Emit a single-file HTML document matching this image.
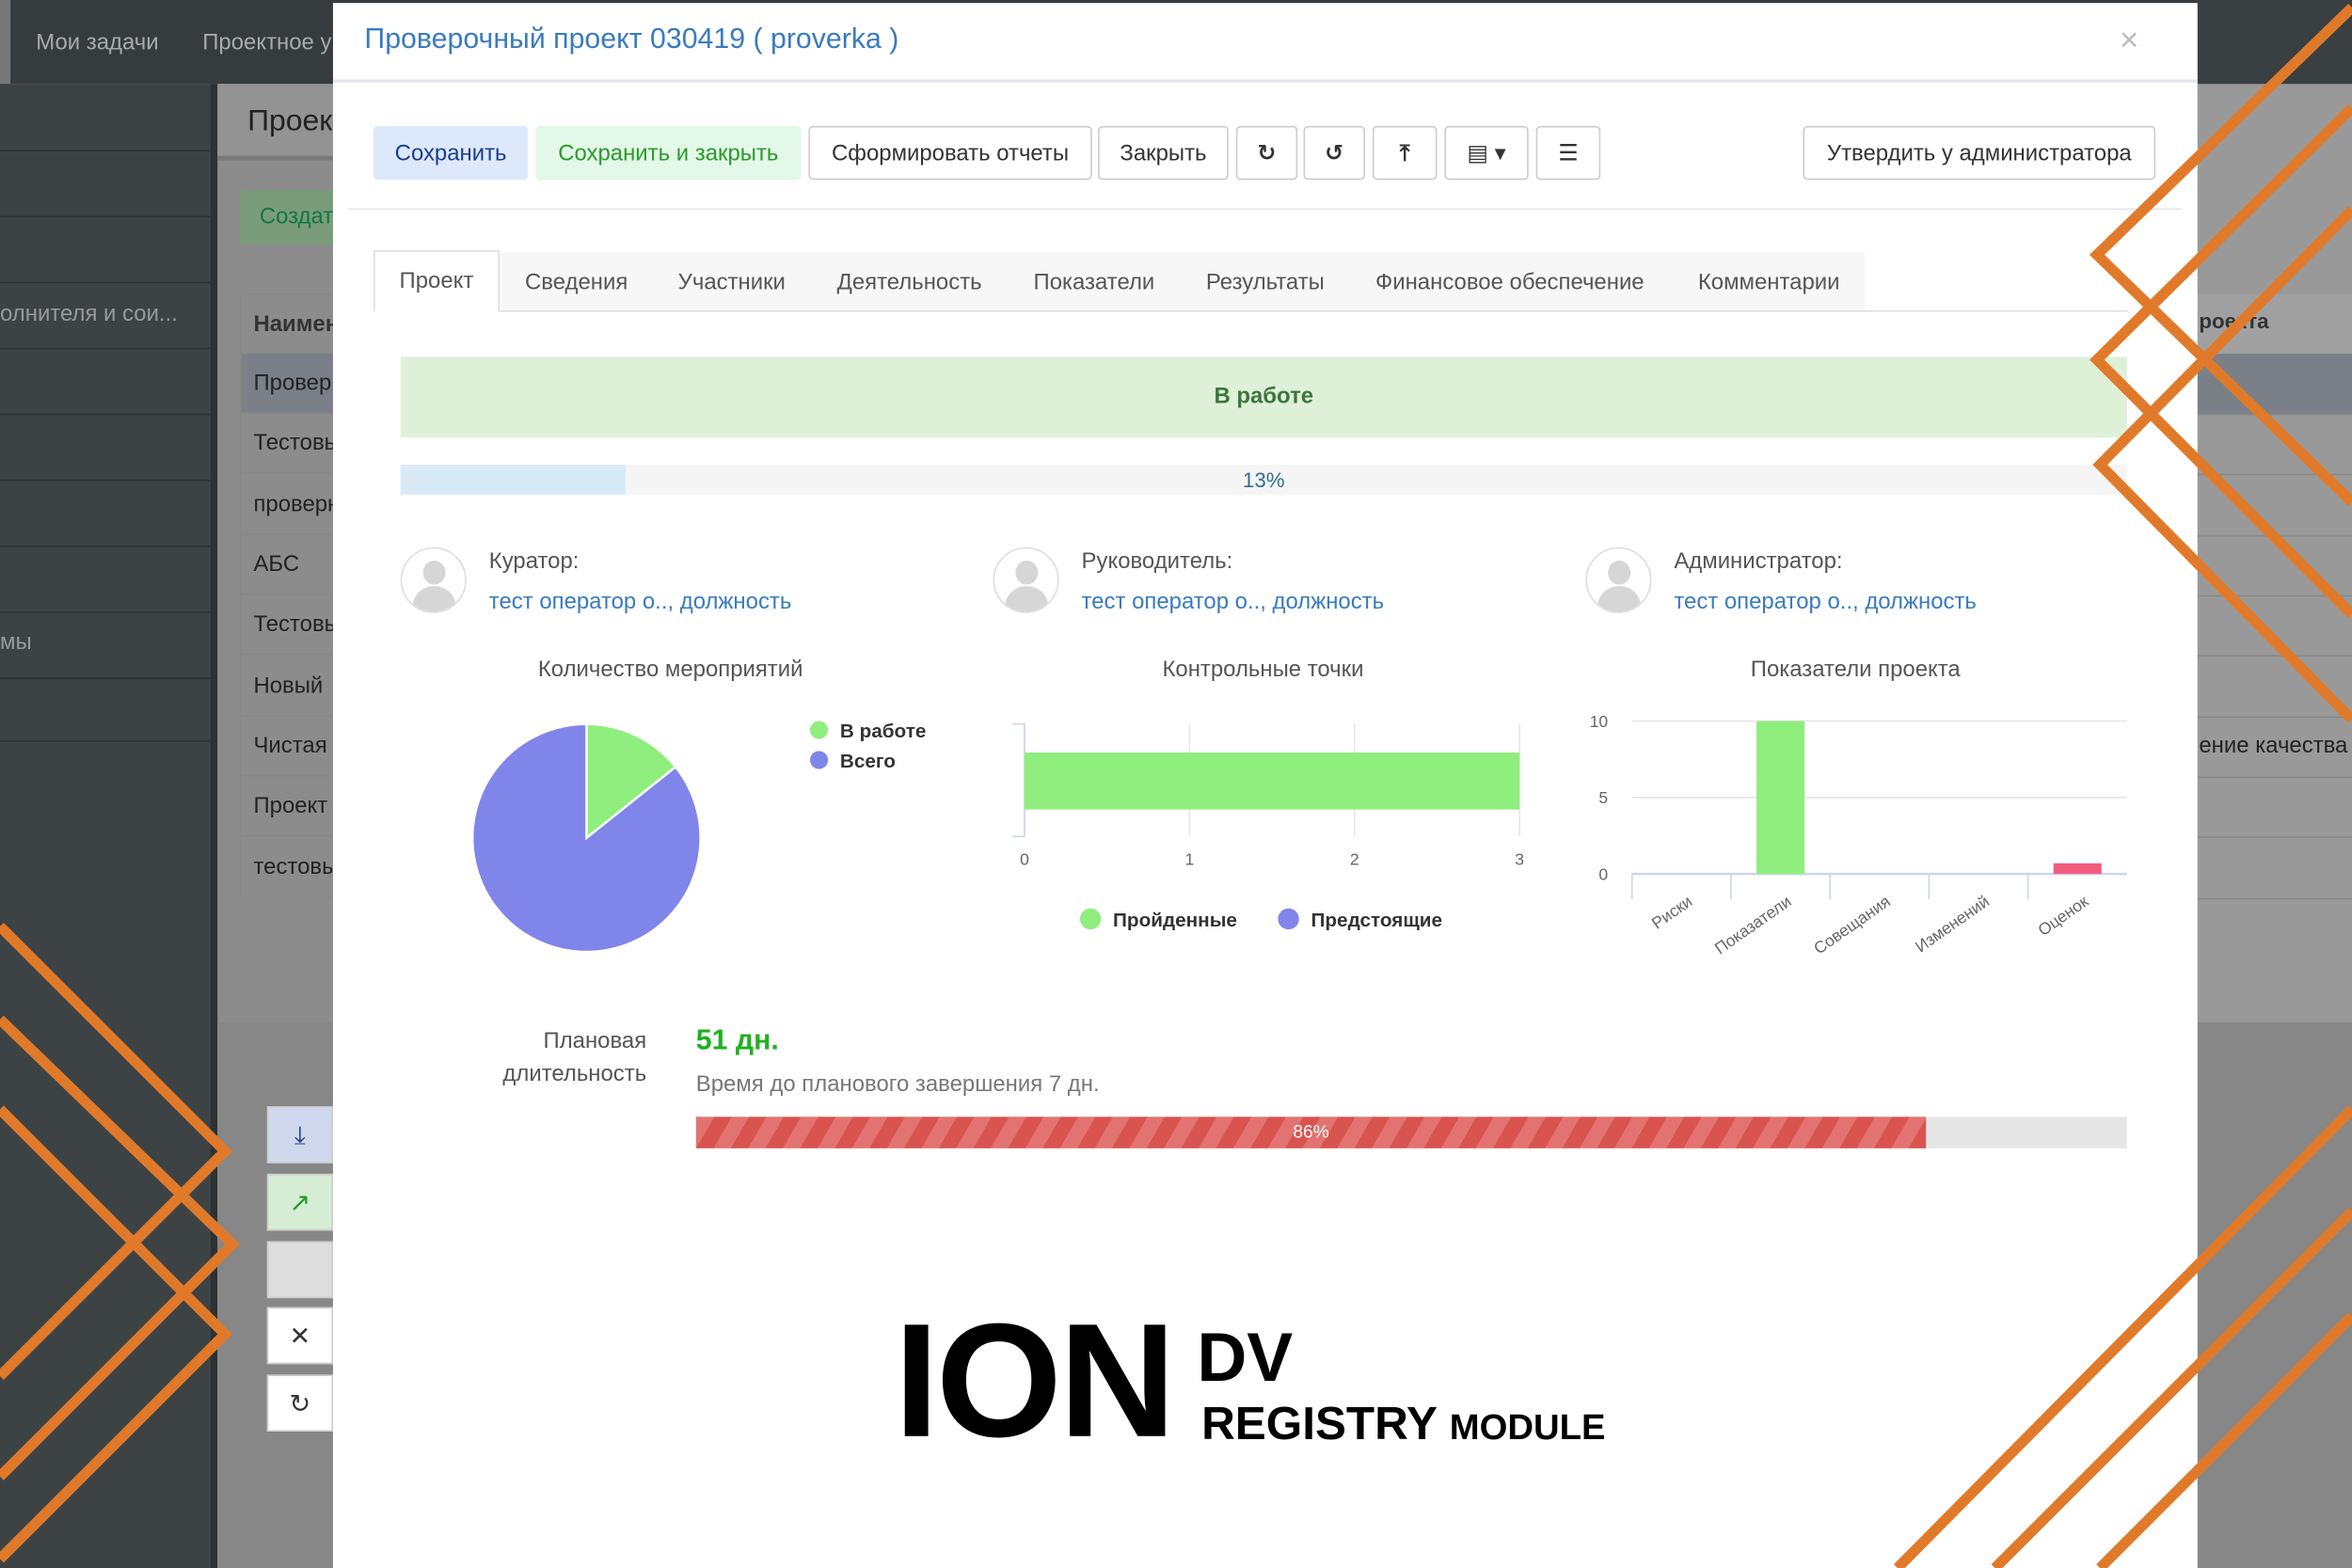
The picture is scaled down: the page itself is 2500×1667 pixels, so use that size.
<!DOCTYPE html>
<html><head><meta charset="utf-8">
<style>
html,body{margin:0;padding:0;width:2500px;height:1667px;overflow:hidden;background:#8c8c8c;}
#stage{position:absolute;left:0;top:0;width:1568px;height:1046px;transform:scale(1.59439,1.5937);transform-origin:0 0;font-family:"Liberation Sans","DejaVu Sans",sans-serif;overflow:hidden;}
.abs{position:absolute;}
.btn{position:absolute;top:84px;height:36px;border:1px solid #ccc;border-radius:3px;background:#fff;font-size:15px;color:#333;line-height:36px;text-align:center;box-sizing:border-box;}
.tab{position:absolute;top:180px;font-size:15px;color:#555;}
.navrow{position:absolute;left:0;width:140px;border-bottom:1px solid #2e3335;}
.trow{position:absolute;left:160px;width:62px;height:40px;border-bottom:1px solid #888;font-size:15px;color:#222;line-height:40px;padding-left:9px;box-sizing:border-box;overflow:hidden;white-space:nowrap;}
.rrow{position:absolute;left:1465px;width:103px;height:40px;border-bottom:1px solid #888;}
.person{position:absolute;top:365px;}
.ava{position:absolute;left:0;top:0;width:42px;height:42px;border-radius:50%;border:1px solid #ddd;background:#fff;overflow:hidden;}
.ava::before{content:"";position:absolute;left:14px;top:8px;width:15px;height:16px;border-radius:50%;background:#d6d6d6;}
.ava::after{content:"";position:absolute;left:7px;top:25px;width:29px;height:20px;border-radius:14px 14px 0 0;background:#d6d6d6;}
.lbl{position:absolute;left:59px;top:1px;font-size:15px;color:#555;white-space:nowrap;}
.lnk{position:absolute;left:59px;top:28px;font-size:15px;color:#3a7bbf;white-space:nowrap;}
.side{position:absolute;left:178px;width:44px;height:38px;box-sizing:border-box;border:1px solid #ccc;text-align:center;line-height:38px;font-size:17px;}
</style></head>
<body>
<div id="stage">
  <div class="abs" style="left:0;top:0;width:1568px;height:56px;background:#363b3d;"></div>
  <div class="abs" style="left:0;top:0;width:7px;height:56px;background:#777;"></div>
  <div class="abs" style="left:24px;top:20px;font-size:15px;color:#aaa;">Мои задачи</div>
  <div class="abs" style="left:135px;top:20px;font-size:15px;color:#aaa;white-space:nowrap;">Проектное у</div>
  <div class="abs" style="left:0;top:56px;width:140px;height:990px;background:#3d4345;"></div>
  <div class="navrow" style="top:56px;height:44px;"></div>
  <div class="navrow" style="top:100px;height:44px;"></div>
  <div class="navrow" style="top:144px;height:44px;"></div>
  <div class="navrow" style="top:188px;height:44px;"></div>
  <div class="abs" style="left:0;top:201px;font-size:15px;color:#999;white-space:nowrap;">олнителя и сои...</div>
  <div class="navrow" style="top:232px;height:44px;"></div>
  <div class="navrow" style="top:276px;height:44px;"></div>
  <div class="navrow" style="top:320px;height:44px;"></div>
  <div class="navrow" style="top:364px;height:44px;"></div>
  <div class="navrow" style="top:408px;height:44px;"></div>
  <div class="abs" style="left:0;top:420px;font-size:15px;color:#999;">мы</div>
  <div class="navrow" style="top:452px;height:42px;"></div>
  <div class="abs" style="left:140px;top:56px;width:5px;height:990px;background:#2c3133;"></div>
  <div class="abs" style="left:145px;top:56px;width:77px;height:990px;background:#8c8c8c;"></div>
  <div class="abs" style="left:145px;top:56px;width:77px;height:48px;background:#939393;border-bottom:3px solid #7a7a7a;"></div>
  <div class="abs" style="left:165px;top:70px;font-size:20px;color:#222;">Проек</div>
  <div class="abs" style="left:160px;top:127px;width:62px;height:36px;background:#7a9c7a;border-radius:3px 0 0 3px;font-size:15px;color:#174;line-height:36px;padding-left:13px;box-sizing:border-box;">Создат</div>
  <div class="trow" style="top:196px;font-weight:bold;color:#333;border-top:1px solid #888;">Наимен</div>
  <div class="trow" style="top:236px;background:#7b7f88;">Провер</div>
  <div class="trow" style="top:276px;">Тестовы</div>
  <div class="trow" style="top:317px;">проверн</div>
  <div class="trow" style="top:357px;">АБС</div>
  <div class="trow" style="top:397px;">Тестовы</div>
  <div class="trow" style="top:438px;">Новый</div>
  <div class="trow" style="top:478px;">Чистая</div>
  <div class="trow" style="top:518px;">Проект</div>
  <div class="trow" style="top:559px;">тестовы</div>
  <div class="abs" style="left:160px;top:196px;width:1px;height:403px;background:#888;"></div>
  <div class="abs" style="left:145px;top:682px;width:77px;height:364px;background:#878787;"></div>
  <div class="side" style="top:738px;background:#cfd8ec;color:#1e3a8a;">⤓</div>
  <div class="side" style="top:783px;background:#d5ecd5;color:#2a9a2a;">↗</div>
  <div class="side" style="top:828px;background:#ddd;"></div>
  <div class="side" style="top:872px;background:#fff;color:#333;font-weight:bold;">✕</div>
  <div class="side" style="top:917px;background:#fff;color:#333;">↻</div>
  <div class="abs" style="left:1465px;top:0;width:103px;height:1046px;background:#999;"></div>
  <div class="abs" style="left:1465px;top:0;width:103px;height:56px;background:#3a3f41;"></div>
  <div class="rrow" style="top:196px;background:#a0a0a0;"></div>
  <div class="abs" style="left:1466px;top:206px;font-size:14px;font-weight:bold;color:#333;">роекта</div>
  <div class="rrow" style="top:236px;background:#7b7f88;"></div>
  <div class="rrow" style="top:276px;"></div><div class="rrow" style="top:317px;"></div><div class="rrow" style="top:357px;"></div><div class="rrow" style="top:397px;"></div><div class="rrow" style="top:438px;"></div>
  <div class="rrow" style="top:478px;"></div>
  <div class="abs" style="left:1466px;top:489px;font-size:15px;color:#222;white-space:nowrap;">ение качества</div>
  <div class="rrow" style="top:518px;"></div><div class="rrow" style="top:559px;"></div>
  <div class="abs" style="left:1465px;top:682px;width:103px;height:364px;background:#878787;"></div>

  <div class="abs" style="left:222px;top:2px;width:1243px;height:1044px;background:#fff;"></div>
  <div class="abs" style="left:243px;top:16px;font-size:19px;color:#3a7bbf;">Проверочный проект 030419 ( proverka )</div>
  <div class="abs" style="left:1413px;top:14px;font-size:22px;color:#bbb;">×</div>
  <div class="abs" style="left:222px;top:53px;width:1243px;height:2px;background:#e3e6ea;"></div>

  <div class="btn" style="left:249px;width:103px;background:#dde9fb;border-color:#dde9fb;color:#1a3d8f;">Сохранить</div>
  <div class="btn" style="left:357px;width:177px;background:#e3f8e8;border-color:#e3f8e8;color:#2a9a2a;">Сохранить и закрыть</div>
  <div class="btn" style="left:539px;width:189px;">Сформировать отчеты</div>
  <div class="btn" style="left:732px;width:87px;">Закрыть</div>
  <div class="btn" style="left:824px;width:41px;font-weight:bold;">↻</div>
  <div class="btn" style="left:869px;width:41px;font-weight:bold;">↺</div>
  <div class="btn" style="left:915px;width:43px;font-weight:bold;">⤒</div>
  <div class="btn" style="left:963px;width:56px;">▤ ▾</div>
  <div class="btn" style="left:1024px;width:43px;">☰</div>
  <div class="btn" style="left:1202px;width:235px;">Утвердить у администратора</div>
  <div class="abs" style="left:232px;top:139px;width:1222px;height:1px;background:#e5e5e5;"></div>

  <div class="abs" style="left:249px;top:168px;width:994px;height:39px;background:#f7f7f7;"></div>
  <div class="abs" style="left:249px;top:207px;width:1170px;height:1px;background:#ddd;"></div>
  <div class="abs" style="left:249px;top:167px;width:84px;height:41px;background:#fff;border:1px solid #ddd;border-bottom:none;box-sizing:border-box;font-size:15px;color:#555;text-align:center;line-height:40px;">Проект</div>
  <div class="tab" style="left:350px;">Сведения</div>
  <div class="tab" style="left:452px;">Участники</div>
  <div class="tab" style="left:558px;">Деятельность</div>
  <div class="tab" style="left:689px;">Показатели</div>
  <div class="tab" style="left:804px;">Результаты</div>
  <div class="tab" style="left:917px;">Финансовое обеспечение</div>
  <div class="tab" style="left:1132px;">Комментарии</div>

  <div class="abs" style="left:267px;top:238px;width:1151px;height:54px;background:#dff0d8;text-align:center;line-height:54px;font-size:15px;font-weight:bold;color:#3c763d;">В работе</div>
  <div class="abs" style="left:267px;top:310px;width:1151px;height:20px;background:#f5f5f5;"></div>
  <div class="abs" style="left:267px;top:310px;width:150px;height:20px;background:#d9eaf7;"></div>
  <div class="abs" style="left:267px;top:312px;width:1151px;text-align:center;font-size:14px;color:#31708f;">13%</div>

  <div class="person" style="left:267px;"><div class="ava"></div><div class="lbl">Куратор:</div><div class="lnk">тест оператор о.., должность</div></div>
  <div class="person" style="left:662px;"><div class="ava"></div><div class="lbl">Руководитель:</div><div class="lnk">тест оператор о.., должность</div></div>
  <div class="person" style="left:1057px;"><div class="ava"></div><div class="lbl">Администратор:</div><div class="lnk">тест оператор о.., должность</div></div>

  <svg class="abs" style="left:0;top:0;" width="1568" height="1046" id="charts"></svg>

  <div class="abs" style="left:300px;top:684px;width:131px;text-align:right;font-size:15px;color:#555;line-height:22px;">Плановая<br>длительность</div>
  <div class="abs" style="left:464px;top:684px;font-size:19px;font-weight:bold;color:#22b022;">51 дн.</div>
  <div class="abs" style="left:464px;top:715px;font-size:15px;color:#777;">Время до планового завершения 7 дн.</div>
  <div class="abs" style="left:464px;top:745px;width:954px;height:21px;background:#e6e6e6;"></div>
  <div class="abs" style="left:464px;top:745px;width:820px;height:21px;background:repeating-linear-gradient(-60deg,#d9534f 0 10px,#e27370 10px 20px);"></div>
  <div class="abs" style="left:464px;top:748px;width:820px;text-align:center;font-size:12px;color:#fff;">86%</div>

  <div class="abs" style="left:596px;top:866px;font-size:108px;font-weight:bold;color:#000;letter-spacing:-2px;line-height:110px;">ION</div>
  <div class="abs" style="left:798px;top:880px;font-size:46px;font-weight:bold;color:#000;line-height:50px;">DV</div>
  <div class="abs" style="left:801px;top:932px;font-size:31px;font-weight:bold;color:#000;white-space:nowrap;">REGISTRY <span style="font-size:24px;">MODULE</span></div>

  <svg class="abs" style="left:0;top:0;" width="1568" height="1046">
    <g fill="none" stroke="#e07a2a" stroke-width="7">
      <polyline points="1568,5 1398,170 1568,335"/>
      <polyline points="1568,72 1398,240 1568,410"/>
      <polyline points="1568,140 1400,310 1568,480"/>
      <line x1="1265" y1="1046" x2="1568" y2="740"/>
      <line x1="1330" y1="1046" x2="1568" y2="808"/>
      <line x1="1400" y1="1046" x2="1568" y2="878"/>
      <polyline points="0,618 150,768 0,918"/>
      <polyline points="0,680 155,830 0,985"/>
      <polyline points="0,740 150,890 0,1040"/>
    </g>
  </svg>
</div>
<script>
const pieLabels = ["В работе","Всего"];
const pieValues = [1, 6];
const cpCategories = ["Пройденные"];
const cpValues = [3];
const cpTicks = [0,1,2,3];
const indCategories = ["Риски","Показатели","Совещания","Изменений","Оценок"];
const indValues = [0,10,0,0,0.7];
const indTicks = [0,5,10];
const NS = "http://www.w3.org/2000/svg";
const svg = document.getElementById('charts');
function mk(tag, attrs, text){const e=document.createElementNS(NS,tag);for(const k in attrs)e.setAttribute(k,attrs[k]);if(text!==undefined)e.textContent=text;svg.appendChild(e);return e;}
const F = '"Liberation Sans", sans-serif';
let t;
t=mk('text',{x:447,y:451,'text-anchor':'middle','font-size':15,fill:'#555','font-family':F},'Количество мероприятий');


t=mk('text',{x:842,y:451,'text-anchor':'middle','font-size':15,fill:'#555','font-family':F},'Контрольные точки');


t=mk('text',{x:1237,y:451,'text-anchor':'middle','font-size':15,fill:'#555','font-family':F},'Показатели проекта');


const pieColors=['#90ee7e','#8085e9'];
const cx=391, cy=559, r=76;
const tot=pieValues.reduce((a,b)=>a+b,0);
let a0=-Math.PI/2;
pieValues.forEach((v,i)=>{
  const a1=a0+v/tot*2*Math.PI;
  const large=(a1-a0)>Math.PI?1:0;
  const p=mk('path',{d:`M${cx},${cy} L${cx+r*Math.cos(a0)},${cy+r*Math.sin(a0)} A${r},${r} 0 ${large} 1 ${cx+r*Math.cos(a1)},${cy+r*Math.sin(a1)} Z`,fill:pieColors[i],stroke:'#fff','stroke-width':1.5});
  
  
  a0=a1;
});
pieLabels.forEach((l,i)=>{
  const c=mk('circle',{cx:546,cy:487+i*20,r:6,fill:pieColors[i]});
  
  
  const tx=mk('text',{x:560,y:492+i*20,'font-size':13,'font-weight':'bold',fill:'#333','font-family':F},l);
  
  
});
const hx0=683, hx1=1013, hy0=483, hy1=558, hmax=3;
const hx=v=>hx0+v/hmax*(hx1-hx0);
cpTicks.forEach(v=>{
  mk('line',{x1:hx(v),y1:hy0,x2:hx(v),y2:hy1,stroke:'#e6e6e6'});
  const tx=mk('text',{x:hx(v),y:577,'text-anchor':'middle','font-size':11,fill:'#666','font-family':F},v);
  
  
});
mk('path',{d:`M${hx0-8},${hy0} H${hx0} V${hy1} H${hx0-8}`,fill:'none',stroke:'#ccd6eb'});
cpValues.forEach((v,i)=>{
  const b=mk('rect',{x:hx0,y:502,width:hx(v)-hx0,height:38,fill:'#90ee7e'});
  
  
});
[['Пройденные','#90ee7e',727],['Предстоящие','#8085e9',859]].forEach(([l,c,x])=>{
  const m=mk('circle',{cx:x,cy:613,r:7,fill:c});
  
  
  const tx=mk('text',{x:x+15,y:618,'font-size':13,'font-weight':'bold',fill:'#333','font-family':F},l);
  
  
});
const vx0=1088, vx1=1418, vy0=583, vy1=481, vmax=10;
const vy=v=>vy0-v/vmax*(vy0-vy1);
indTicks.forEach(v=>{
  mk('line',{x1:vx0,y1:vy(v),x2:vx1,y2:vy(v),stroke:v===0?'#ccd6eb':'#e6e6e6','stroke-width':v===0?1.5:1});
  const tx=mk('text',{x:1072,y:vy(v)+4,'text-anchor':'end','font-size':11,fill:'#666','font-family':F},v);
  
  
});
const bw=(vx1-vx0)/indCategories.length;
indCategories.forEach((c,i)=>{
  mk('line',{x1:vx0+i*bw,y1:vy0,x2:vx0+i*bw,y2:vy0+17,stroke:'#ccd6eb'});
  const xc=vx0+(i+0.5)*bw;
  const tx=mk('text',{x:xc+8,y:vy0+20,'text-anchor':'end','font-size':11,fill:'#666','font-family':F,transform:`rotate(-35 ${xc+8} ${vy0+20})`},c);
  
  
  if(indValues[i]>0){
    const b=mk('rect',{x:xc-16,y:vy(indValues[i]),width:32,height:vy0-vy(indValues[i]),fill:i===4?'#f15c80':'#90ee7e'});
    
    
  }
});
</script>
</body></html>
